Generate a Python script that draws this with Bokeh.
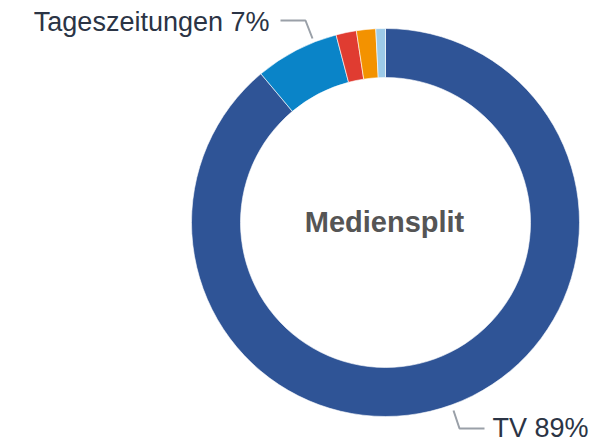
import numpy as np
from bokeh.plotting import figure
from bokeh.models import ColumnDataSource
from bokeh.core.properties import value
from bokeh.embed import file_html
from bokeh.resources import INLINE

# ---- data ----
categories = ["TV", "Tageszeitungen", "Zeitschriften", "Radio", "Online"]
shares = [88.9, 7.0, 1.7, 1.6, 0.8]
colors = ["#2f5496", "#0a84c8", "#e03c31", "#f39200", "#9dcbe8"]
label_texts = ["TV 89%", "Tageszeitungen 7%"]
center_title = "Mediensplit"

# ---- layout (page pixel space) ----
W, H = 603, 442

def px(x):
    return x

def py(y):
    return H - y

cx, cy = px(385), py(222)
r_out, r_in = 194, 145

frac = np.array(shares) / np.sum(shares)
cum = np.concatenate([[0], np.cumsum(frac)])
start = np.pi / 2 - 2 * np.pi * cum[:-1]
end = np.pi / 2 - 2 * np.pi * cum[1:]

src = ColumnDataSource(dict(start=start, end=end, color=colors, cat=categories))

p = figure(width=W, height=H, x_range=(0, W), y_range=(0, H),
           output_backend="svg", toolbar_location=None, min_border=0)
p.axis.visible = False
p.grid.visible = False
p.outline_line_color = None
p.background_fill_color = "white"

p.annular_wedge(x=cx, y=cy, inner_radius=r_in, outer_radius=r_out,
                start_angle="start", end_angle="end", direction="clock",
                fill_color="color", line_color="white", line_width=0.6,
                source=src)

p.line([px(280), px(305), px(312)], [py(20), py(20), py(38)], line_color="#9aa0a8", line_width=2)
p.line([px(453), px(459), px(484)], [py(410), py(428), py(428)], line_color="#9aa0a8", line_width=2)

p.text(x=[px(269)], y=[py(21)], text=[label_texts[1]], text_align="right",
       text_baseline="middle", text_font=value("Liberation Sans"),
       text_font_size="27px", text_color="#2b3445")
p.text(x=[px(492)], y=[py(427)], text=[label_texts[0]], text_align="left",
       text_baseline="middle", text_font=value("Liberation Sans"),
       text_font_size="27px", text_color="#2b3445")
p.text(x=[px(384)], y=[py(221)], text=[center_title], text_align="center",
       text_baseline="middle", text_font=value("Liberation Sans"),
       text_font_style="bold", text_font_size="29px", text_color="#555555")

open("out.html", "w").write(file_html(p, INLINE))
